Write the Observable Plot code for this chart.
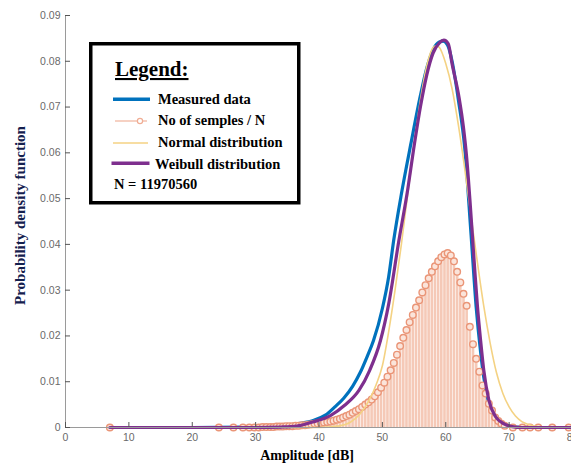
<!DOCTYPE html>
<html>
<head>
<meta charset="utf-8">
<script src="https://cdn.jsdelivr.net/npm/d3@7"></script>
<script src="https://cdn.jsdelivr.net/npm/@observablehq/plot@0.6"></script>
<style>
html, body { margin: 0; padding: 0; background: #fff; overflow: hidden; }
#wrap { position: relative; width: 571px; height: 470px; overflow: hidden; }
#chart svg { max-width: none !important; display: block; }
#legend { position: absolute; left: 89px; top: 42px; }
</style>
</head>
<body>
<div id="wrap">
  <div id="chart"></div>
  <svg id="legend" width="212" height="164"></svg>
</div>
<script>
// ---- data ----
const xTicks = [0, 10, 20, 30, 40, 50, 60, 70, 80];
const yTicks = [0, 0.01, 0.02, 0.03, 0.04, 0.05, 0.06, 0.07, 0.08, 0.09];

// "No of semples / N" (stems with circles)
const sampleX = [7.0, 24.2, 26.5, 28.0, 29.0, 29.8, 30.5, 31.1, 31.7, 32.3, 32.8, 33.3, 33.8, 34.3, 34.8, 35.3, 35.8, 36.3, 36.8, 37.3, 37.8, 38.3, 38.8, 39.3, 39.8, 40.3, 40.8, 41.3, 41.8, 42.3, 42.8, 43.3, 43.8, 44.3, 44.8, 45.3, 45.8, 46.3, 46.8, 47.3, 47.8, 48.3, 48.8, 49.3, 49.8, 50.3, 50.8, 51.3, 51.8, 52.3, 52.8, 53.3, 53.8, 54.3, 54.8, 55.3, 55.8, 56.3, 56.8, 57.3, 57.8, 58.3, 58.8, 59.3, 59.8, 60.3, 60.8, 61.3, 61.8, 62.3, 62.8, 63.3, 63.8, 64.3, 64.8, 65.3, 65.8, 66.3, 66.8, 67.3, 67.8, 68.3, 68.8, 69.3, 70.6, 72.1, 73.3, 74.6, 76.8, 79.4];
const sampleY = [0, 0, 0, 0, 0, 0, 0, 0.0001, 0.0001, 0.0001, 0.0001, 0.0002, 0.0002, 0.0002, 0.0003, 0.0003, 0.0003, 0.0004, 0.0004, 0.0005, 0.0005, 0.0006, 0.0007, 0.0008, 0.0009, 0.0010, 0.0011, 0.0012, 0.0013, 0.0015, 0.0017, 0.0019, 0.0022, 0.0025, 0.0028, 0.0032, 0.0036, 0.0040, 0.0045, 0.0050, 0.0055, 0.0061, 0.0068, 0.0077, 0.0087, 0.0098, 0.0111, 0.0125, 0.0141, 0.0159, 0.0178, 0.0196, 0.0213, 0.0230, 0.0246, 0.0262, 0.0278, 0.0295, 0.0311, 0.0326, 0.0340, 0.0352, 0.0363, 0.0372, 0.0378, 0.0381, 0.0376, 0.0363, 0.0340, 0.0317, 0.0292, 0.0266, 0.0220, 0.0182, 0.0150, 0.0122, 0.0092, 0.0074, 0.0052, 0.0037, 0.0022, 0.0014, 0.0008, 0.0004, 0, 0, 0, 0, 0, 0];

// Measured data (blue)
const measuredX = [7, 20, 28, 32, 35, 37, 39.2, 41, 42.5, 43.9, 45.3, 46.5, 47.6, 48.6, 50, 51, 51.8, 53, 54.5, 56, 57, 58, 59, 59.6, 60.3, 61, 62, 63, 64, 64.8, 65.5, 66, 66.7, 67.5, 68.5, 69.5, 71, 75, 80];
const measuredY = [0, 0, 0.0001, 0.0003, 0.0005, 0.0009, 0.0016, 0.0027, 0.0045, 0.0064, 0.009, 0.012, 0.0155, 0.019, 0.026, 0.033, 0.041, 0.051, 0.062, 0.0725, 0.0785, 0.0825, 0.0842, 0.0844, 0.0835, 0.0800, 0.0715, 0.0610, 0.0420, 0.0263, 0.0165, 0.0110, 0.0060, 0.0030, 0.0012, 0.0004, 0.0001, 0, 0];

// Normal distribution (yellow)
const normalX = [7, 30, 40, 43, 45, 46.5, 48, 49, 50, 51, 52, 53, 54, 55, 56, 57, 58, 58.5, 59, 60, 61, 62, 63, 64, 65, 66, 67, 68, 69, 70, 71, 72, 73, 74, 75, 76, 80];
const normalY = [0, 0, 0, 0.0003, 0.0012, 0.0030, 0.0062, 0.0093, 0.0135, 0.0210, 0.0300, 0.0400, 0.0510, 0.0615, 0.0715, 0.0790, 0.0830, 0.0834, 0.0830, 0.0795, 0.0740, 0.0660, 0.0565, 0.0460, 0.0360, 0.0265, 0.0185, 0.0120, 0.0075, 0.0045, 0.0025, 0.0013, 0.0007, 0.0003, 0.0001, 0, 0];

// Weibull distribution (purple)
const weibullX = [7, 20, 30, 34, 36.5, 39, 41.8, 44, 46.3, 48, 49.7, 51, 52.6, 54, 54.9, 56, 57, 58, 59, 59.7, 60.4, 61, 62.1, 62.8, 63.3, 63.8, 64.2, 64.6, 65, 65.5, 66, 66.8, 67.9, 69.2, 70.5, 72, 80];
const weibullY = [0, 0, 0, 0.0001, 0.0003, 0.0012, 0.0026, 0.0048, 0.0081, 0.0125, 0.019, 0.027, 0.0408, 0.052, 0.0605, 0.070, 0.077, 0.0818, 0.0840, 0.0846, 0.0838, 0.0794, 0.0721, 0.0655, 0.0590, 0.0500, 0.0420, 0.0340, 0.0265, 0.0190, 0.0125, 0.0060, 0.0023, 0.0008, 0.0002, 0, 0];

const legendLabels = ["Legend:", "Measured data", "No of semples / N", "Normal distribution", "Weibull distribution", "N = 11970560"];
const xLabel = "Amplitude [dB]";
const yLabel = "Probability density function";

const colors = {measured: "#0072BD", samples: "#ea9577", bars: "#f5c9b7", normal: "#f4d283", weibull: "#7E2F8E"};

const zipRows = (xs, ys) => xs.map((x, i) => ({x, y: ys[i]}));
const samples = zipRows(sampleX, sampleY);
const measured = zipRows(measuredX, measuredY);
const normal = zipRows(normalX, normalY);
const weibull = zipRows(weibullX, weibullY);

const serif = "'Liberation Serif', 'Times New Roman', serif";

const chart = Plot.plot({
  width: 580,
  height: 470,
  marginLeft: 65,
  marginRight: 8,
  marginTop: 15,
  marginBottom: 43,
  x: {domain: [0, 80]},
  y: {domain: [0, 0.09]},
  style: {fontFamily: "'Liberation Sans', Arial, sans-serif", fontSize: "10.5px", background: "#fff", overflow: "visible"},
  marks: [
    Plot.ruleX(samples, {x: "x", y1: 0, y2: "y", stroke: colors.bars, strokeWidth: 2.6}),
    Plot.line(measured, {x: "x", y: "y", stroke: colors.measured, strokeWidth: 3.2, curve: "monotone-x"}),
    Plot.dot(samples, {x: "x", y: "y", r: 3.3, stroke: colors.samples, strokeWidth: 1.4, fill: "#fbe4da"}),
    Plot.line(normal, {x: "x", y: "y", stroke: colors.normal, strokeWidth: 1.6, curve: "monotone-x"}),
    Plot.line(weibull, {x: "x", y: "y", stroke: colors.weibull, strokeWidth: 3.2, curve: "monotone-x"}),
    Plot.ruleX([0], {stroke: "#9a9a9a", strokeWidth: 1}),
    Plot.ruleY([0], {stroke: "#9a9a9a", strokeWidth: 1}),
    Plot.axisX(xTicks, {tickSize: -5, tickPadding: 11, stroke: "#555", fill: "#6a6a6a", label: null}),
    Plot.axisY(yTicks, {tickSize: -5, tickPadding: 10, stroke: "#555", fill: "#6a6a6a", label: null,
      tickFormat: d => d === 0 ? "0" : d.toFixed(2)}),
    Plot.text([xLabel], {text: d => d, frameAnchor: "bottom", dy: 32, dx: -12, fontFamily: serif,
      fontWeight: "bold", fontSize: 14, fill: "#000"}),
    Plot.text([yLabel], {text: d => d, frameAnchor: "left", textAnchor: "middle", rotate: -90, dx: -45, dy: -6, fontFamily: serif,
      fontWeight: "bold", fontSize: 15, fill: "#14204e"})
  ]
});
document.getElementById("chart").appendChild(chart);

// legend (drawn with d3 inside its own svg)
const lg = d3.select("#legend");
lg.append("rect").attr("x", 1.75).attr("y", 1.75).attr("width", 208).attr("height", 159)
  .attr("fill", "#fff").attr("stroke", "#000").attr("stroke-width", 3.5);
lg.append("text").attr("x", 26).attr("y", 34).text(legendLabels[0])
  .attr("font-family", serif).attr("font-weight", "bold").attr("font-size", 21)
  .attr("text-decoration", "underline").attr("fill", "#000");
const rows = [
  {label: legendLabels[1], ly: 57.3, x1: 24, x2: 61, stroke: colors.measured, w: 3.5, tx: 69, ty: 62},
  {label: legendLabels[2], ly: 79, x1: 26, x2: 58, stroke: "#f2b9a3", w: 1.3, tx: 69, ty: 83, dot: 51},
  {label: legendLabels[3], ly: 101, x1: 24, x2: 59, stroke: colors.normal, w: 1.6, tx: 69, ty: 105},
  {label: legendLabels[4], ly: 121.3, x1: 22.5, x2: 60.5, stroke: colors.weibull, w: 3.5, tx: 66, ty: 126.5}
];
for (const r of rows) {
  lg.append("line").attr("x1", r.x1).attr("x2", r.x2).attr("y1", r.ly).attr("y2", r.ly)
    .attr("stroke", r.stroke).attr("stroke-width", r.w);
  if (r.dot) lg.append("circle").attr("cx", r.dot).attr("cy", r.ly).attr("r", 2.6)
    .attr("fill", "#fff").attr("stroke", "#f0ad94").attr("stroke-width", 1.2);
  lg.append("text").attr("x", r.tx).attr("y", r.ty).text(r.label)
    .attr("font-family", serif).attr("font-weight", "bold").attr("font-size", 14.5).attr("fill", "#000");
}
lg.append("text").attr("x", 25).attr("y", 146.5).text(legendLabels[5])
  .attr("font-family", serif).attr("font-weight", "bold").attr("font-size", 14.5).attr("fill", "#000");
</script>
</body>
</html>
